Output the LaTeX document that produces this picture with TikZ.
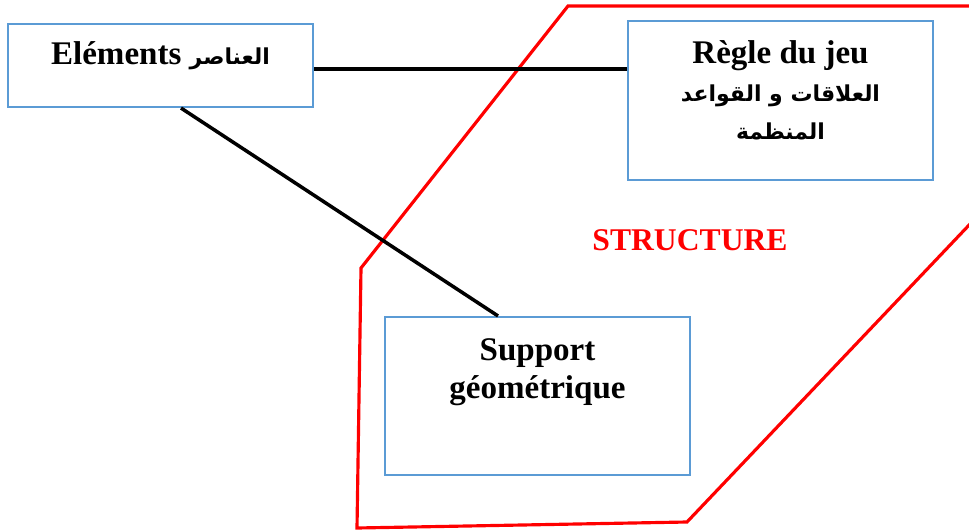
\documentclass[tikz,border=0pt]{standalone}
\usepackage{fontspec}
\setmainfont{Liberation Serif}
\newfontfamily\arabicfont[Script=Arabic]{DejaVu Sans}
\TeXXeTstate=1
\usetikzlibrary{positioning}
\definecolor{boxblue}{RGB}{91,155,213}
\newcommand{\arabtxt}[1]{{\arabicfont\fontsize{12.5}{21.6}\selectfont\beginR #1\endR}}
\tikzstyle{recNode} = [rectangle, draw=boxblue, line width=1.2pt, minimum width=6.1cm, minimum height=1.66cm, inner sep=0pt]
\tikzstyle{txtNode} = [font=\fontsize{18.8}{21.6}\selectfont\bfseries, align=center, inner sep=0pt]
\tikzstyle{link} = [line width=2pt, draw=black]
\tikzstyle{hull} = [line width=1.8pt, draw=red, line join=miter]

\begin{document}
\begin{tikzpicture}[x=0.02cm, y=-0.02cm]
        \useasboundingbox (0,0) rectangle (969,530);
        % red outline
        \draw [hull] (568,6) -- (990,6) -- (990,203) -- (687,522) -- (357,528) -- (361,268) -- cycle;

        \node (elem) [recNode] at (160.5,65.5) {};
        \node (regle) [recNode, minimum height=3.18cm] at (780.5,100.5) {};
        \node (supp) [recNode, minimum height=3.16cm] at (537.5,396) {};

        \node (elemT) [txtNode, below=0.36cm of elem.north] {Eléments \arabtxt{العناصر}};
        \node (regleT) [txtNode, below=0.40cm of regle.north] {Règle du jeu\\ \arabtxt{العلاقات و القواعد}\\ \arabtxt{المنظمة}};
        \node (suppT) [txtNode, below=0.44cm of supp.north] {Support\\ géométrique};
        \node (struct) [txtNode, text=red, font=\fontsize{18}{21}\selectfont\bfseries] at (690,240) {STRUCTURE};

        \draw [link] ([yshift=-0.07cm]elem.east) -- ([yshift=-0.07cm]elem.east -| regle.west);
        \draw [link] ([xshift=0.41cm]elem.south) -- ([xshift=-0.79cm]supp.north);
\end{tikzpicture}
\end{document}
